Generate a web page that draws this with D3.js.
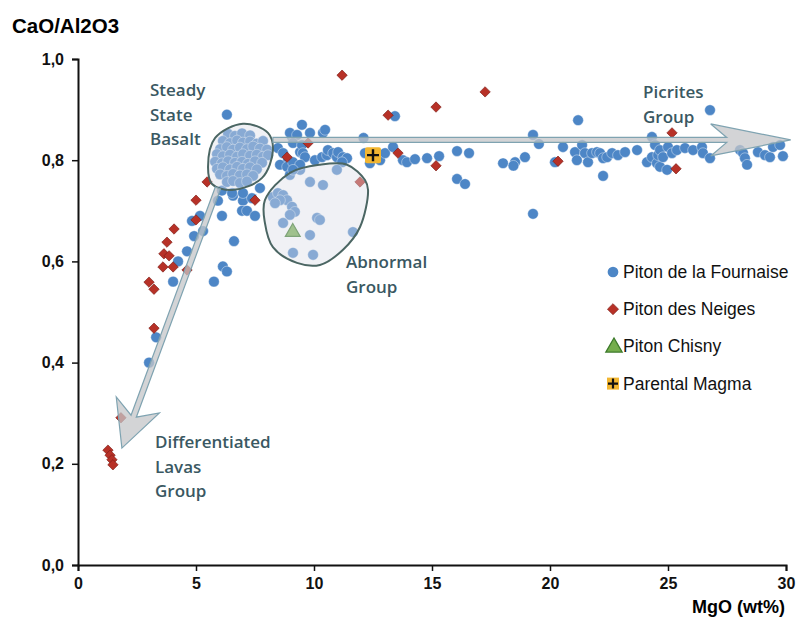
<!DOCTYPE html>
<html>
<head>
<meta charset="utf-8">
<script src="https://cdn.jsdelivr.net/npm/d3@7"></script>
<style>
  body { margin: 0; background: #fff; }
  .tick text { font-family: "Liberation Sans", Arial, sans-serif; font-weight: bold; font-size: 16px; }
  .note { font-family: "Open Sans", sans-serif; font-size: 17px; font-weight: 600; fill: #3a5862; }
  .legend text { font-family: "Liberation Sans", Arial, sans-serif; font-size: 17.5px; fill: #111; }
</style>
</head>
<body>
<div id="chart"></div>
<script>
const xTicks = [0, 5, 10, 15, 20, 25, 30];
const yTicks = [0, 0.2, 0.4, 0.6, 0.8, 1.0];

// Piton de la Fournaise  [MgO, CaO/Al2O3]
const fournaise = [
  [3.01, 0.40], [3.31, 0.45], [4.03, 0.56], [4.24, 0.60], [4.62, 0.62], [4.92, 0.65],
  [4.83, 0.68], [5.17, 0.69], [5.30, 0.66], [5.76, 0.56], [6.14, 0.59], [6.31, 0.58],
  [6.61, 0.64], [5.93, 0.72], [6.10, 0.74], [6.10, 0.69], [6.57, 0.73], [6.99, 0.72],
  [6.95, 0.70], [7.16, 0.70], [7.37, 0.725], [7.50, 0.69], [6.53, 0.735], [6.99, 0.735],
  [7.71, 0.745], [6.31, 0.89],
  // steady state cluster
  [6.36, 0.852], [6.65, 0.848], [6.95, 0.853], [7.29, 0.849],
  [6.14, 0.838], [6.44, 0.834], [6.74, 0.839], [6.99, 0.835], [7.29, 0.837], [7.58, 0.833], [7.84, 0.838],
  [6.02, 0.822], [6.31, 0.826], [6.57, 0.821], [6.86, 0.825], [7.16, 0.822], [7.42, 0.827], [7.71, 0.823], [8.01, 0.821],
  [5.89, 0.812], [6.14, 0.808], [6.44, 0.811], [6.74, 0.807], [6.99, 0.812], [7.29, 0.809], [7.58, 0.811], [7.84, 0.807], [8.05, 0.810],
  [5.81, 0.797], [6.10, 0.794], [6.36, 0.798], [6.65, 0.795], [6.95, 0.797], [7.20, 0.793], [7.50, 0.798], [7.80, 0.795],
  [5.89, 0.783], [6.14, 0.786], [6.44, 0.782], [6.74, 0.787], [6.99, 0.783], [7.29, 0.786], [7.58, 0.782],
  [6.02, 0.772], [6.31, 0.769], [6.57, 0.773], [6.86, 0.770], [7.16, 0.772], [7.42, 0.769],
  [6.31, 0.757], [6.57, 0.759], [6.86, 0.755], [7.16, 0.758],
  // right of the cluster
  [8.47, 0.824], [8.69, 0.814], [8.90, 0.800], [8.56, 0.791], [8.86, 0.787], [9.11, 0.796],
  [9.41, 0.781], [8.98, 0.771], [9.07, 0.846], [9.49, 0.870], [9.83, 0.854], [8.98, 0.854],
  [9.28, 0.850], [10.38, 0.854], [10.47, 0.860], [9.11, 0.834], [9.41, 0.816], [9.49, 0.830],
  [9.53, 0.814], [9.62, 0.806], [9.41, 0.791], [9.11, 0.781], [10.04, 0.800], [10.34, 0.806],
  [10.55, 0.810], [10.59, 0.820], [10.81, 0.814], [10.97, 0.806], [11.02, 0.816], [11.23, 0.806],
  [11.40, 0.804], [11.19, 0.796], [12.10, 0.844], [12.16, 0.814], [12.37, 0.794], [12.80, 0.800],
  [13.01, 0.814], [13.35, 0.826], [13.43, 0.887], [13.77, 0.800], [13.94, 0.796], [14.28, 0.802],
  [14.79, 0.804], [15.30, 0.808], [16.06, 0.818], [16.57, 0.814], [16.06, 0.763], [16.40, 0.753],
  [18.01, 0.794], [18.52, 0.796], [18.45, 0.789], [18.94, 0.806], [19.28, 0.850], [19.53, 0.832],
  [19.28, 0.694], [20.21, 0.796], [20.55, 0.826], [21.19, 0.879], [21.06, 0.816], [21.14, 0.800],
  [21.36, 0.830], [21.48, 0.814], [21.61, 0.796], [21.78, 0.814], [21.99, 0.816], [22.12, 0.814],
  [22.25, 0.804], [22.25, 0.769], [22.42, 0.806], [22.63, 0.814], [22.88, 0.810], [23.18, 0.816],
  [23.69, 0.820], [24.11, 0.796], [24.32, 0.846], [24.32, 0.806], [24.45, 0.830], [24.53, 0.794],
  [24.58, 0.810], [24.66, 0.820], [24.66, 0.787], [24.79, 0.806], [24.96, 0.781], [25.00, 0.826],
  [25.17, 0.814], [25.38, 0.820], [25.72, 0.824], [26.06, 0.820], [26.44, 0.826], [26.48, 0.814],
  [26.78, 0.804], [26.78, 0.899], [28.05, 0.820], [28.18, 0.814], [28.26, 0.804], [28.35, 0.791],
  [28.81, 0.816], [29.11, 0.810], [29.32, 0.806], [29.45, 0.826], [29.75, 0.830], [29.87, 0.808],
  // abnormal group
  [8.26, 0.727], [8.47, 0.735], [8.69, 0.731], [8.86, 0.721], [8.56, 0.721], [8.35, 0.715],
  [9.07, 0.708], [9.19, 0.698], [8.98, 0.692], [8.69, 0.676], [9.83, 0.757], [10.38, 0.751],
  [10.97, 0.781], [10.13, 0.686], [10.25, 0.682], [9.83, 0.652], [11.65, 0.658], [9.11, 0.617],
  [9.96, 0.613]
];

// Piton des Neiges
const neiges = [
  [1.27, 0.227], [1.36, 0.217], [1.44, 0.208], [1.48, 0.198], [1.82, 0.291], [3.22, 0.468],
  [3.01, 0.559], [3.22, 0.545], [3.60, 0.589], [4.03, 0.589], [4.62, 0.583], [3.64, 0.615],
  [3.86, 0.611], [3.77, 0.638], [4.07, 0.664], [5.00, 0.682], [5.00, 0.721], [5.47, 0.757],
  [7.50, 0.721], [8.86, 0.806], [9.75, 0.834], [11.95, 0.757], [13.14, 0.889], [13.56, 0.814],
  [15.17, 0.905], [15.17, 0.789], [17.25, 0.935], [20.34, 0.798], [25.17, 0.854], [25.34, 0.783],
  [11.19, 0.968]
];

const chisny = [[9.1, 0.658]];
const parental = [[12.5, 0.81]];

const legendLabels = ["Piton de la Fournaise", "Piton des Neiges", "Piton Chisny", "Parental Magma"];

// outlines of the groups
const steadyOutline = [
  [5.51, 0.787], [5.81, 0.844], [6.99, 0.872], [8.05, 0.854],
  [8.26, 0.820], [7.80, 0.765], [6.53, 0.741], [5.68, 0.753]
];
const abnormalOutline = [
  [7.92, 0.721], [8.98, 0.775], [10.25, 0.791], [11.40, 0.791], [12.16, 0.761], [12.29, 0.741],
  [11.95, 0.668], [11.23, 0.623], [10.25, 0.593], [9.28, 0.597], [8.26, 0.628], [7.92, 0.676]
];

// trend arrows: start, tip
const picriteArrow = [[8.26, 0.84], [30.2, 0.84]];
const diffArrow = [[5.93, 0.745], [1.86, 0.231]];

const width = 798, height = 626;
const margin = { top: 59, right: 12, bottom: 61, left: 78 };

const svg = d3.select("#chart").append("svg")
  .attr("width", width)
  .attr("height", height);

const x = d3.scaleLinear().domain([0, 30]).range([margin.left, width - margin.right]);
const y = d3.scaleLinear().domain([0, 1]).range([height - margin.bottom, margin.top]);

const fmt = (d) => d3.format(".1f")(d).replace(".", ",");

// axes
const gx = svg.append("g")
  .attr("transform", "translate(0," + (height - margin.bottom) + ")")
  .call(d3.axisBottom(x).tickValues(xTicks).tickSize(6).tickPadding(7));
const gy = svg.append("g")
  .attr("transform", "translate(" + margin.left + ",0)")
  .call(d3.axisLeft(y).tickValues(yTicks).tickFormat(fmt).tickSize(6).tickPadding(8));
[gx, gy].forEach((g) => {
  g.select(".domain").attr("stroke", "#111").attr("stroke-width", 2);
  g.selectAll(".tick line").attr("stroke", "#111").attr("stroke-width", 1.5);
  g.selectAll(".tick text").attr("fill", "#111");
});

svg.append("text")
  .attr("x", 12).attr("y", 33)
  .attr("font-family", "Liberation Sans, Arial, sans-serif")
  .attr("font-weight", "bold").attr("font-size", 20.5)
  .text("CaO/Al2O3");
svg.append("text")
  .attr("x", 785).attr("y", 613)
  .attr("text-anchor", "end")
  .attr("font-family", "Liberation Sans, Arial, sans-serif")
  .attr("font-weight", "bold").attr("font-size", 18)
  .text("MgO (wt%)");

// markers
const blue = "#4d86c6", red = "#b73127";
const circle = d3.symbol(d3.symbolCircle, 90);
const square = d3.symbol(d3.symbolSquare, 54);
const triangle = d3.symbol(d3.symbolTriangle, 95);

svg.append("g").selectAll("path")
  .data(fournaise)
  .join("path")
  .attr("transform", (d) => "translate(" + x(d[0]) + "," + y(d[1]) + ")")
  .attr("d", circle)
  .attr("fill", blue)
  .attr("stroke", "#fff")
  .attr("stroke-width", 0.4);

svg.append("g").selectAll("path")
  .data(neiges)
  .join("path")
  .attr("transform", (d) => "translate(" + x(d[0]) + "," + y(d[1]) + ") rotate(45)")
  .attr("d", square)
  .attr("fill", red)
  .attr("stroke", "#7a1d16")
  .attr("stroke-width", 0.6);

svg.append("g").selectAll("path")
  .data(chisny)
  .join("path")
  .attr("transform", (d) => "translate(" + x(d[0]) + "," + y(d[1]) + ")")
  .attr("d", triangle)
  .attr("fill", "#74ad4c")
  .attr("stroke", "#3c7a2a")
  .attr("stroke-width", 1.2);

function parentalMark(g) {
  g.append("rect").attr("x", -8).attr("y", -8).attr("width", 16).attr("height", 16)
    .attr("rx", 2).attr("fill", "#f2b631");
  g.append("path").attr("d", "M-6,0H6M0,-6V6").attr("stroke", "#111").attr("stroke-width", 2.4);
}
svg.append("g").selectAll("g")
  .data(parental)
  .join("g")
  .attr("transform", (d) => "translate(" + x(d[0]) + "," + y(d[1]) + ")")
  .each(function () { parentalMark(d3.select(this)); });

// group outlines, translucent over the points
const outline = d3.line()
  .x((d) => x(d[0]))
  .y((d) => y(d[1]))
  .curve(d3.curveCatmullRomClosed);

[steadyOutline, abnormalOutline].forEach((pts) => {
  svg.append("path")
    .attr("d", outline(pts))
    .attr("fill", "#dcdee8")
    .attr("fill-opacity", 0.42)
    .attr("stroke", "#4b6663")
    .attr("stroke-width", 2);
});

// arrows
function arrow(a, opt) {
  const s = [x(a[0][0]), y(a[0][1])], t = [x(a[1][0]), y(a[1][1])];
  const dx = t[0] - s[0], dy = t[1] - s[1];
  const len = Math.hypot(dx, dy);
  const u = [dx / len, dy / len], n = [-u[1], u[0]];
  const p = (base, along, side) => [base[0] + u[0] * along + n[0] * side, base[1] + u[1] * along + n[1] * side];
  const pts = [
    p(s, 0, opt.hw), p(t, -opt.neck, opt.hw), p(t, -opt.len, opt.w), t,
    p(t, -opt.len, -opt.w), p(t, -opt.neck, -opt.hw), p(s, 0, -opt.hw)
  ];
  svg.append("path")
    .attr("d", "M" + pts.map((q) => q.join(",")).join("L") + "Z")
    .attr("fill", "#c4c6c8")
    .attr("fill-opacity", 0.75)
    .attr("stroke", "#7fa3b1")
    .attr("stroke-width", 1.2);
}
arrow(picriteArrow, { hw: 2.5, neck: 64, len: 80, w: 16 });
arrow(diffArrow, { hw: 2.8, neck: 34, len: 46, w: 23 });

// annotations
const notes = [
  { x: 150, y: 96, lines: ["Steady", "State", "Basalt"] },
  { x: 643, y: 98, lines: ["Picrites", "Group"] },
  { x: 346, y: 268, lines: ["Abnormal", "Group"] },
  { x: 155, y: 448, lines: ["Differentiated", "Lavas", "Group"] }
];
notes.forEach((n) => {
  const t = svg.append("text").attr("class", "note");
  n.lines.forEach((l, i) => {
    t.append("tspan").attr("x", n.x).attr("y", n.y + i * 24.5).text(l);
  });
});

// legend
const legend = svg.append("g").attr("class", "legend");
legendLabels.forEach((label, i) => {
  const cy = 272 + i * 37.2;
  const g = legend.append("g").attr("transform", "translate(613," + cy + ")");
  if (i === 0) g.append("path").attr("d", d3.symbol(d3.symbolCircle, 90)).attr("fill", blue);
  if (i === 1) g.append("path").attr("d", d3.symbol(d3.symbolSquare, 62)).attr("transform", "rotate(45)")
    .attr("fill", red).attr("stroke", "#7a1d16").attr("stroke-width", 0.6);
  if (i === 2) g.append("path").attr("d", d3.symbol(d3.symbolTriangle, 115)).attr("transform", "translate(1,1)")
    .attr("fill", "#74ad4c").attr("stroke", "#3c7a2a").attr("stroke-width", 1.3);
  if (i === 3) {
    g.append("rect").attr("x", -6).attr("y", -6).attr("width", 12).attr("height", 12).attr("fill", "#f2b631");
    g.append("path").attr("d", "M-5,0H5M0,-5V5").attr("stroke", "#111").attr("stroke-width", 2.2);
  }
  legend.append("text").attr("x", 623).attr("y", cy + 6).text(label);
});
</script>
</body>
</html>
